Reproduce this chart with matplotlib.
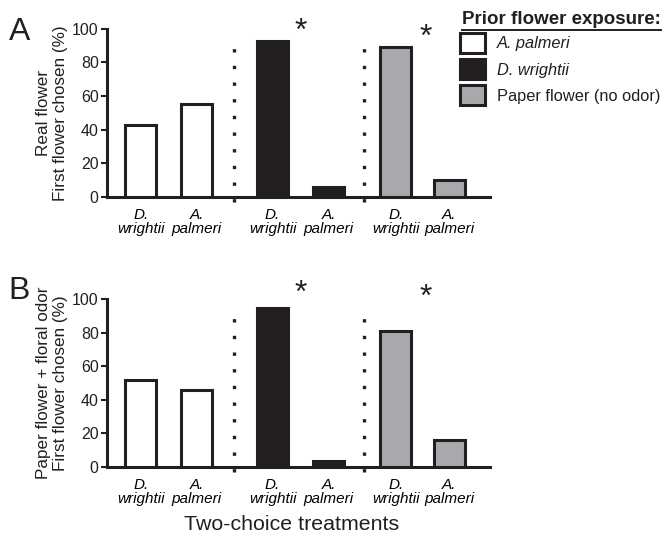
import matplotlib
matplotlib.use('Agg')
import matplotlib.pyplot as plt
from matplotlib.patches import Patch
from matplotlib.lines import Line2D

plt.rcParams['font.family'] = ['Liberation Sans', 'DejaVu Sans']

# datos
categories = ['D.\nwrightii', 'A.\npalmeri', 'D.\nwrightii', 'A.\npalmeri', 'D.\nwrightii', 'A.\npalmeri']
exposure = ['A. palmeri', 'D. wrightii', 'Paper flower (no odor)']
real_flower = [43, 55, 93, 6, 89, 10]
paper_odor = [52, 46, 95, 3.5, 81, 16]
ylabels = ['Real flower\nFirst flower chosen (%)',
           'Paper flower + floral odor\nFirst flower chosen (%)']
panels = ['A', 'B']

# estilo
dark = '#231f20'
grey = '#a7a9ac'
group_colors = ['white', dark, grey]
xpos = [0, 1, 2.35, 3.35, 4.55, 5.5]
dividers = [1.66, 3.98]
star_x = [2.86, 5.09]
star_y = [[98, 94.5], [103, 100.5]]

fig = plt.figure(figsize=(6.65, 5.44), dpi=100)
ax_a = fig.add_axes([0.161, 0.638, 0.576, 0.309])
ax_b = fig.add_axes([0.161, 0.142, 0.576, 0.308])

for i, (ax, vals) in enumerate(zip([ax_a, ax_b], [real_flower, paper_odor])):
    cols = [group_colors[k // 2] for k in range(len(vals))]
    ax.bar(xpos, vals, width=0.55, color=cols, edgecolor=dark, linewidth=2.2, zorder=3)
    ax.vlines(dividers, -3, 96, colors=dark, linewidth=2.4,
              linestyles=(0, (1, 4.0)), clip_on=False)
    for sx, sy in zip(star_x, star_y[i]):
        ax.text(sx, sy, '*', fontsize=23, ha='center', va='center', color=dark, clip_on=False)
    ax.set_xlim(-0.6, 6.23)
    ax.set_ylim(0, 100)
    ax.set_yticks([0, 20, 40, 60, 80, 100])
    ax.set_xticks(xpos)
    ax.set_xticklabels(categories, style='italic', fontsize=11, linespacing=1.0)
    ax.tick_params(axis='x', length=0, pad=8)
    ax.tick_params(axis='y', length=4, width=1.5, labelsize=11.5, pad=2, colors=dark, labelcolor=dark)
    for s in ['top', 'right']:
        ax.spines[s].set_visible(False)
    for s in ['left', 'bottom']:
        ax.spines[s].set_linewidth(2.2)
        ax.spines[s].set_color(dark)
        ax.spines[s].set_capstyle('projecting')
    ax.set_ylabel(ylabels[i], fontsize=12.3, labelpad=3, color=dark)

fig.text(0.013, 1 - 40 / 544, 'A', fontsize=23, color=dark, va='baseline')
fig.text(0.013, 1 - 299 / 544, 'B', fontsize=23, color=dark, va='baseline')
fig.text(0.438, 0.026, 'Two-choice treatments', fontsize=15.4, ha='center', va='baseline', color=dark)

# leyenda
handles = [Patch(facecolor=c, edgecolor=dark, linewidth=2.2) for c in group_colors]
leg = fig.legend(handles, exposure, loc='upper left', bbox_to_anchor=(0.692, 1 - 33 / 544),
                 frameon=False, fontsize=11.8, handlelength=1.5, handleheight=1.5,
                 handletextpad=0.75, labelspacing=0.38, borderpad=0, borderaxespad=0)
for t in leg.get_texts()[:2]:
    t.set_style('italic')
for t in leg.get_texts():
    t.set_color(dark)

title = fig.text(0.695, 1 - 24 / 544, 'Prior flower exposure:', fontsize=13.5, weight='bold',
                 va='baseline', color=dark)
fig.canvas.draw()
bb = title.get_window_extent().transformed(fig.transFigure.inverted())
fig.add_artist(Line2D([bb.x0, bb.x1], [bb.y0 - 0.004, bb.y0 - 0.004], color=dark, linewidth=1.4))

fig.savefig('out.png', dpi=100)
